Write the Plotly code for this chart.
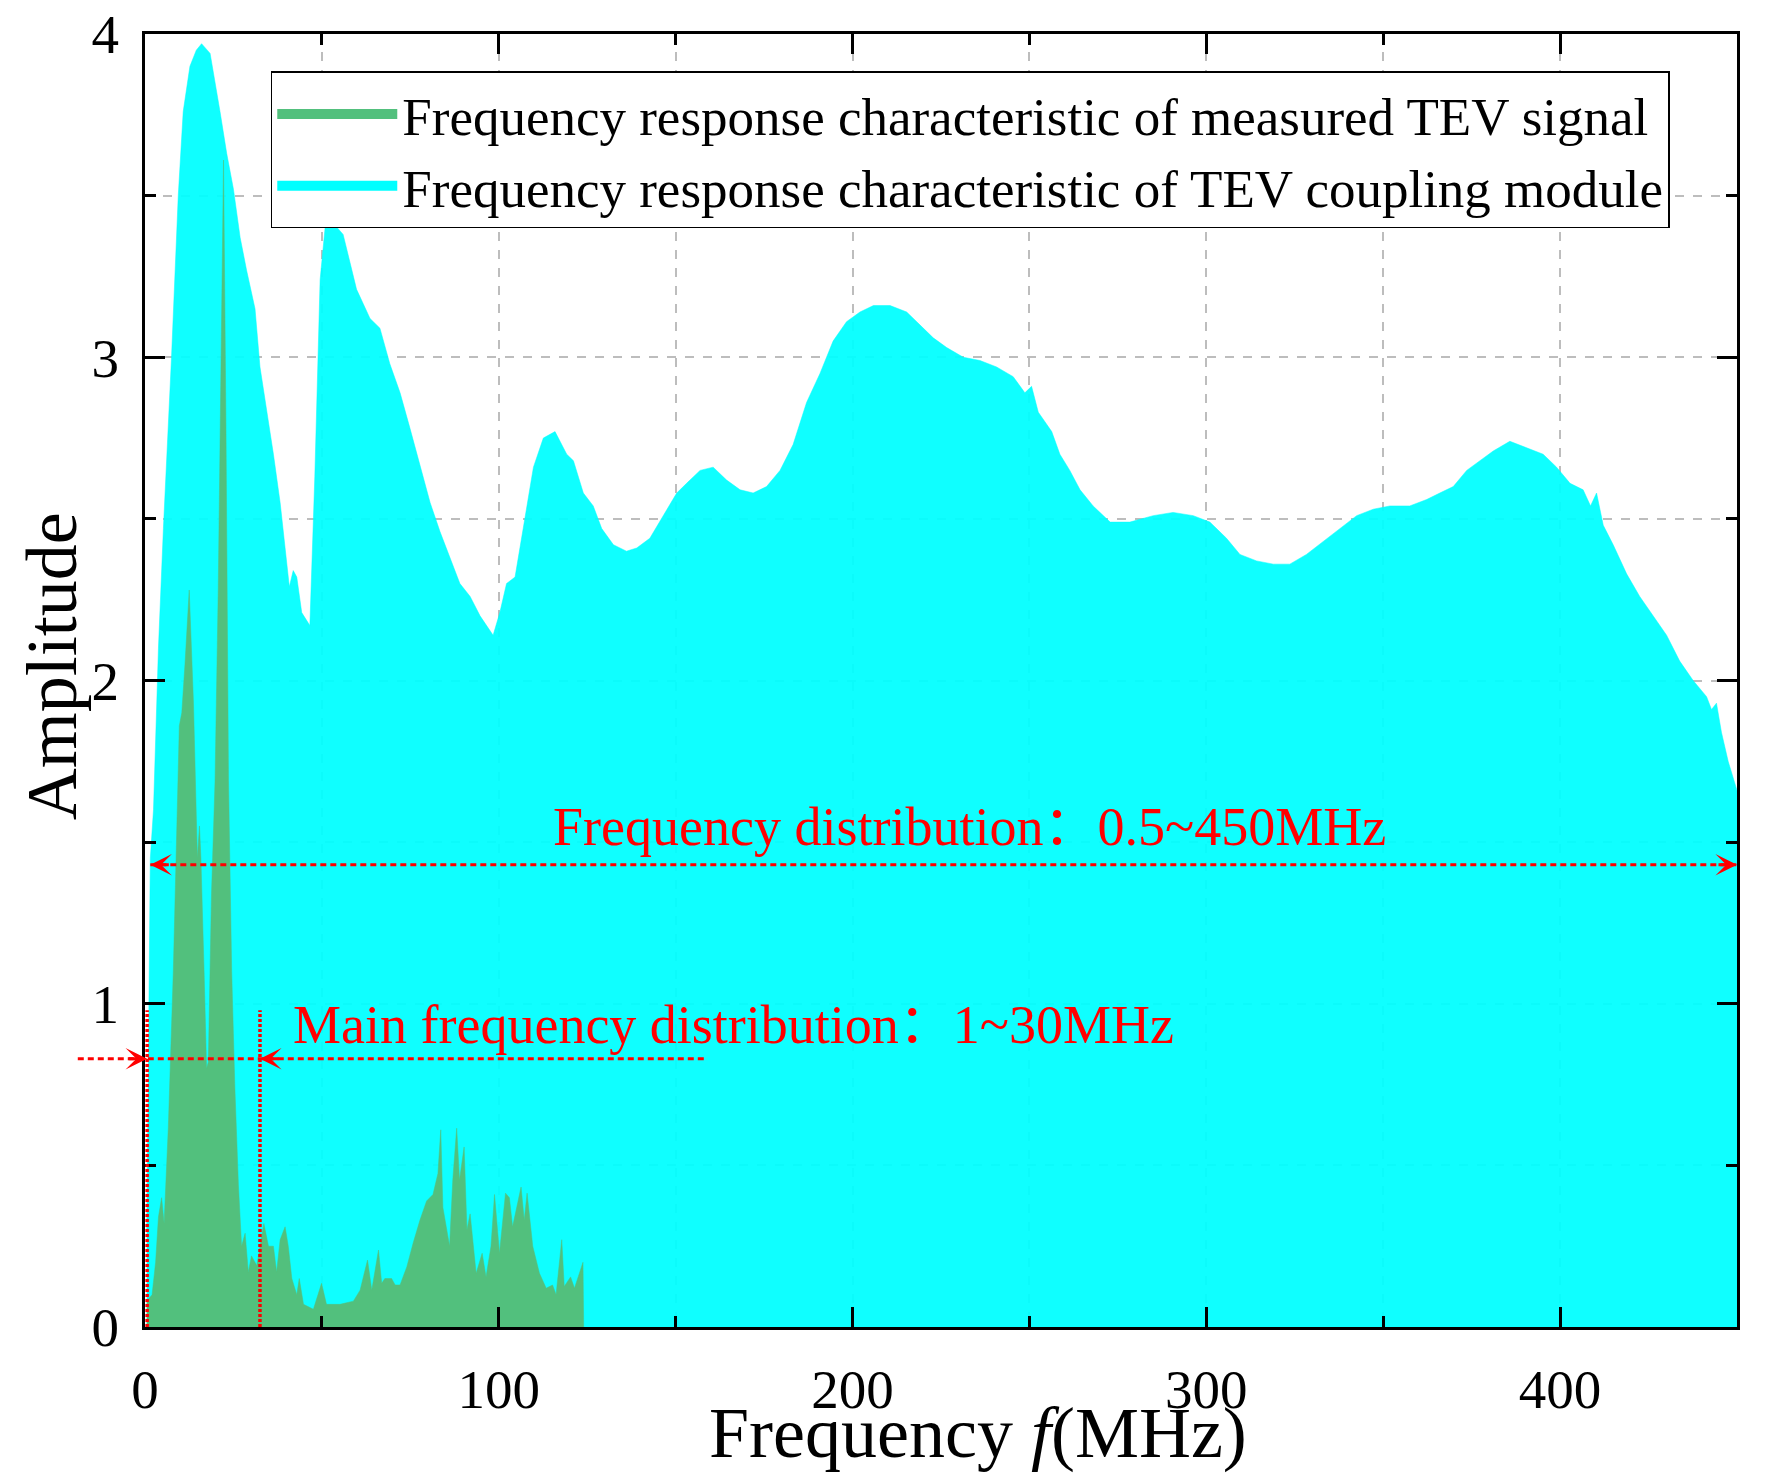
import plotly.graph_objects as go

# ---------------- data ----------------
# Frequency response characteristic of TEV coupling module (cyan)
coupling_freq = [0.5, 1.0, 1.5, 2.4, 3.8, 5.2, 7.5, 9.4, 10.8, 12.7, 14.5, 16.0, 18.4, 21.2, 23.1,
                 25.0, 26.9, 28.7, 31.1, 32.5, 34.4, 36.3, 38.2, 39.6, 40.8, 41.9, 42.9, 44.3, 46.6,
                 48.0, 49.5, 50.9, 52.8, 56.0, 57.9, 59.8, 63.6, 66.4, 69.2, 72.1, 74.9, 77.7, 80.6,
                 83.4, 86.2, 89.0, 91.9, 94.7, 98.4, 100.3, 102.2, 104.6, 106.9, 109.8, 112.6, 115.9,
                 119.2, 121.1, 123.9, 126.7, 129.1, 132.4, 136.1, 139.0, 142.7, 146.5, 150.3, 153.1,
                 156.9, 160.6, 164.4, 168.2, 171.9, 175.7, 179.5, 183.2, 187.0, 190.8, 194.5, 198.3,
                 202.1, 205.9, 210.6, 215.3, 219.1, 222.8, 226.6, 231.3, 236.0, 240.7, 245.4, 248.7,
                 250.6, 252.5, 256.3, 258.6, 261.4, 264.3, 268.0, 272.8, 278.4, 285.0, 290.6, 296.3,
                 301.0, 305.7, 309.5, 314.2, 318.9, 323.6, 328.3, 333.0, 337.8, 342.5, 347.2, 351.9,
                 357.5, 362.3, 366.0, 369.8, 373.6, 377.3, 381.1, 385.8, 390.5, 395.2, 399.0, 402.8,
                 406.5, 408.6, 410.3, 412.2, 415.0, 418.8, 422.5, 426.3, 430.1, 433.8, 437.6, 441.4,
                 442.8, 444.2, 445.6, 447.5, 450.0]
coupling_amp = [0.30, 1.00, 1.45, 1.60, 2.10, 2.47, 3.00, 3.50, 3.76, 3.90, 3.95, 3.97, 3.94, 3.76, 3.63,
                3.52, 3.37, 3.27, 3.15, 2.97, 2.84, 2.70, 2.55, 2.40, 2.29, 2.34, 2.32, 2.21, 2.17,
                2.63, 3.24, 3.40, 3.42, 3.38, 3.29, 3.21, 3.12, 3.09, 2.98, 2.89, 2.78, 2.67, 2.55,
                2.46, 2.38, 2.30, 2.26, 2.20, 2.14, 2.21, 2.30, 2.32, 2.47, 2.66, 2.75, 2.77,
                2.70, 2.68, 2.58, 2.54, 2.47, 2.42, 2.40, 2.41, 2.44, 2.51, 2.58, 2.61,
                2.65, 2.66, 2.62, 2.59, 2.58, 2.60, 2.65, 2.73, 2.86, 2.95, 3.05, 3.11,
                3.14, 3.16, 3.16, 3.14, 3.10, 3.06, 3.03, 3.00, 2.99, 2.97, 2.94, 2.89,
                2.91, 2.83, 2.77, 2.70, 2.65, 2.59, 2.54, 2.49, 2.49, 2.51, 2.52, 2.51,
                2.49, 2.44, 2.39, 2.37, 2.36, 2.36, 2.39, 2.43, 2.47, 2.51, 2.53, 2.54,
                2.54, 2.56, 2.58, 2.60, 2.65, 2.68, 2.71, 2.74, 2.72, 2.70, 2.66, 2.61,
                2.59, 2.54, 2.58, 2.48, 2.42, 2.33, 2.26, 2.20, 2.14, 2.06, 2.00, 1.95,
                1.91, 1.93, 1.84, 1.75, 1.66]

# Frequency response characteristic of measured TEV signal (green)
signal_freq = [0.5, 2.0, 3.0, 3.8, 4.7, 5.4, 6.6, 8.0, 9.7, 10.4, 11.3, 12.5, 13.7, 14.8, 15.4, 15.8,
               16.7, 17.4, 17.9, 18.8, 19.8, 20.7, 21.5, 22.2, 22.9, 23.6, 24.5, 25.4, 26.4, 27.3,
               28.3, 29.2, 30.1, 31.6, 33.6, 34.9, 36.3, 37.2, 38.2, 39.6, 40.5, 41.5, 42.9, 43.6,
               44.8, 47.6, 49.9, 51.3, 55.1, 58.9, 60.8, 62.9, 64.1, 66.0, 66.9, 67.8, 69.7, 70.7,
               72.1, 74.0, 75.8, 77.7, 79.6, 81.4, 82.8, 83.6, 84.2, 86.1, 87.0, 88.1, 88.9, 90.2,
               91.0, 91.9, 93.6, 95.3, 96.4, 97.8, 98.8, 100.2, 101.9, 103.0, 103.9, 106.3, 107.2,
               108.0, 109.6, 111.5, 113.4, 115.2, 116.2, 117.8, 118.5, 120.3, 121.4, 123.6, 123.8,
               124.0]
signal_amp = [0.08, 0.10, 0.20, 0.34, 0.40, 0.32, 0.62, 1.10, 1.86, 1.90, 2.05, 2.28, 1.93, 1.45, 1.55, 1.45,
              1.10, 0.80, 0.82, 1.34, 1.69, 2.28, 2.99, 3.61, 2.76, 1.69, 1.10, 0.74, 0.44, 0.25,
              0.29, 0.17, 0.22, 0.19, 0.32, 0.25, 0.25, 0.17, 0.27, 0.31, 0.25, 0.15, 0.10, 0.15,
              0.07, 0.055, 0.135, 0.07, 0.07, 0.08, 0.114, 0.207, 0.114, 0.238, 0.135, 0.15, 0.15, 0.13,
              0.13, 0.186, 0.26, 0.33, 0.39, 0.41, 0.475, 0.61, 0.37, 0.25, 0.455, 0.615, 0.455, 0.557,
              0.30, 0.35, 0.166, 0.228, 0.155, 0.25, 0.41, 0.228, 0.414, 0.40, 0.31, 0.433, 0.33,
              0.414, 0.25, 0.166, 0.12, 0.13, 0.10, 0.27, 0.125, 0.155, 0.12, 0.20, 0.20,
              0.0]

series_names = ["Frequency response characteristic of TEV coupling module",
                "Frequency response characteristic of measured TEV signal"]

x_ticks = [0, 100, 200, 300, 400]
y_ticks = [0, 1, 2, 3, 4]
X_RANGE = [0, 450]
Y_RANGE = [0, 4]
x_title = "Frequency <i>f</i>(MHz)"
y_title = "Amplitude"

# guide annotations (data units)
full_band = [1.5, 450.0]          # 0.5~450MHz arrow span
full_band_level = 1.43
main_band = [0.6, 32.5]           # 1~30MHz arrow tips / vertical markers
main_band_level = 0.83
main_line_span = [-19.0, 159.0]
main_marker_top = 0.98
full_label = "Frequency distribution：0.5~450MHz"
full_label_pos = (114.8, 1.547)
main_label = "Main frequency distribution：1~30MHz"
main_label_pos = (41.3, 0.934)

SERIF = "Liberation Serif, Times New Roman, Noto Sans CJK SC, serif"
RED = "#FF0000"
CYAN_FILL = "rgba(0,255,255,0.94)"
CYAN = "#00FFFF"
GREEN = "#52C07D"


def px(x):
    return (x - X_RANGE[0]) / (X_RANGE[1] - X_RANGE[0])


def py(y):
    return (y - Y_RANGE[0]) / (Y_RANGE[1] - Y_RANGE[0])


fig = go.Figure()
fig.add_trace(go.Scatter(x=coupling_freq, y=coupling_amp, mode="lines", fill="tozeroy",
                         fillcolor=CYAN_FILL, line=dict(color=CYAN, width=0.5),
                         name=series_names[0], showlegend=False))
fig.add_trace(go.Scatter(x=signal_freq, y=signal_amp, mode="lines", fill="tozeroy",
                         fillcolor=GREEN, line=dict(color=GREEN, width=0.5),
                         name=series_names[1], showlegend=False))
# legend keys (thick bars like the reference legend)
fig.add_trace(go.Scatter(x=[None], y=[None], mode="lines", line=dict(color=CYAN, width=22),
                         name=series_names[0]))
fig.add_trace(go.Scatter(x=[None], y=[None], mode="lines", line=dict(color=GREEN, width=22),
                         name=series_names[1]))

shapes = []
shapes.append(dict(type="line", xref="paper", yref="paper",
                   x0=px(full_band[0]), x1=px(full_band[1]),
                   y0=py(full_band_level), y1=py(full_band_level),
                   line=dict(color=RED, width=3, dash="6px,4px")))
shapes.append(dict(type="line", xref="paper", yref="paper",
                   x0=px(main_line_span[0]), x1=px(main_line_span[1]),
                   y0=py(main_band_level), y1=py(main_band_level),
                   line=dict(color=RED, width=3, dash="6px,4px")))
for xv in main_band:
    shapes.append(dict(type="line", xref="paper", yref="paper",
                       x0=px(xv), x1=px(xv), y0=py(0), y1=py(main_marker_top),
                       line=dict(color=RED, width=3.5, dash="3px,2px")))

annotations = []


def arrow(x, y, direction):
    annotations.append(dict(x=x, y=y, xref="x", yref="y", text="", showarrow=True,
                            ax=-direction * 20, ay=0, arrowhead=3, arrowsize=1.2,
                            arrowwidth=3, arrowcolor=RED))


arrow(full_band[0], full_band_level, -1)
arrow(full_band[1], full_band_level, 1)
arrow(main_band[0], main_band_level, 1)
arrow(main_band[1], main_band_level, -1)

annotations.append(dict(x=full_label_pos[0], y=full_label_pos[1], xref="x", yref="y",
                        text=full_label, showarrow=False, xanchor="left", yanchor="middle",
                        font=dict(family=SERIF, size=54, color=RED)))
annotations.append(dict(x=main_label_pos[0], y=main_label_pos[1], xref="x", yref="y",
                        text=main_label, showarrow=False, xanchor="left", yanchor="middle",
                        font=dict(family=SERIF, size=54, color=RED)))
# axis titles (placed as in the reference: x title slightly right of centre)
annotations.append(dict(x=0.523, y=-0.082, xref="paper", yref="paper", text=x_title,
                        showarrow=False, xanchor="center", yanchor="middle",
                        font=dict(family=SERIF, size=72, color="black")))
annotations.append(dict(x=-0.0585, y=0.511, xref="paper", yref="paper", text=y_title,
                        showarrow=False, xanchor="center", yanchor="middle", textangle=-90,
                        font=dict(family=SERIF, size=72, color="black")))

axis_common = dict(showline=True, linecolor="black", linewidth=3, mirror="allticks",
                   ticks="inside", ticklen=20, tickwidth=3, tickcolor="black",
                   showgrid=True, gridcolor="#BDBDBD", gridwidth=1.5, griddash="dash",
                   zeroline=False, layer="above traces", automargin=False,
                   ticklabeloverflow="allow", ticklabelstandoff=12,
                   tickfont=dict(family=SERIF, size=55, color="black"))

# the page body adds an 8px offset; the figure is sized so the plot area lands
# at x 145-1737, y 34-1327 of the 1770x1477 window
fig.update_layout(
    width=1762, height=1469,
    margin=dict(l=137, r=33, t=26, b=150, autoexpand=False),
    paper_bgcolor="white", plot_bgcolor="white",
    font=dict(family=SERIF, color="black"),
    shapes=shapes, annotations=annotations,
    legend=dict(x=0.079, y=0.971, xanchor="left", yanchor="top",
                bordercolor="black", borderwidth=1.5, bgcolor="white",
                font=dict(family=SERIF, size=53, color="black"),
                traceorder="reversed", itemwidth=120, tracegroupgap=0),
    xaxis=dict(range=X_RANGE, tickvals=x_ticks, ticktext=[str(v) for v in x_ticks],
               minor=dict(dtick=50, ticklen=11, tickwidth=3, tickcolor="black", ticks="inside",
                          showgrid=True, gridcolor="#BDBDBD", gridwidth=1.5, griddash="dash"),
               **axis_common),
    yaxis=dict(range=Y_RANGE, tickvals=y_ticks, ticktext=[str(v) for v in y_ticks],
               minor=dict(dtick=0.5, ticklen=11, tickwidth=3, tickcolor="black", ticks="inside",
                          showgrid=True, gridcolor="#BDBDBD", gridwidth=1.5, griddash="dash"),
               **axis_common),
    showlegend=True,
)

fig.write_html("out.html")
